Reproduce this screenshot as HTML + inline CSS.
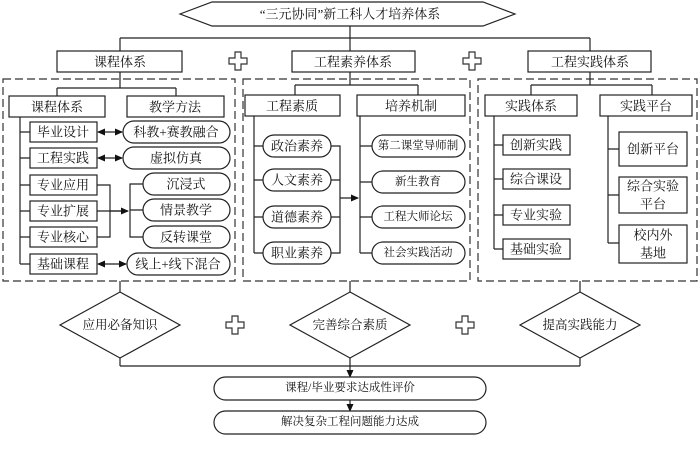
<!DOCTYPE html>
<html><head><meta charset="utf-8"><style>
html,body{margin:0;padding:0;background:#fff}
svg text{font-family:"Liberation Serif","Noto Serif CJK SC",serif;fill:#111;text-anchor:middle;dominant-baseline:central}
</style></head><body>
<svg width="700" height="446" viewBox="0 0 700 446" xmlns="http://www.w3.org/2000/svg">
<defs>
<marker id="a" markerWidth="8" markerHeight="8" refX="7" refY="4" orient="auto" markerUnits="userSpaceOnUse"><path d="M0,0.5 L8,4 L0,7.5 z" fill="#111"/></marker>
<marker id="b" markerWidth="8" markerHeight="8" refX="1" refY="4" orient="auto" markerUnits="userSpaceOnUse"><path d="M8,0.5 L0,4 L8,7.5 z" fill="#111"/></marker>
<g id="plus"><path d="M-3,-9 h6 v6 h6 v6 h-6 v6 h-6 v-6 h-6 v-6 h6 z" fill="#fff" stroke="#333" stroke-width="1.2"/></g>
</defs>
<g stroke="#222" stroke-width="1.2" fill="none">
<path d="M180,14 L212,2 L483,2 L515,14 L483,26 L212,26 Z" fill="#fff"/>
<path d="M350,26 V38 M120,38 H590 M120,38 V51 M350,38 V51 M590,38 V51"/>
<rect x="57" y="51" width="125" height="21" fill="#fff"/>
<rect x="292" y="51" width="123" height="21" fill="#fff"/>
<rect x="528" y="51" width="123" height="21" fill="#fff"/>
<g stroke-dasharray="8,4" stroke="#333">
<rect x="3" y="79" width="232" height="202"/>
<rect x="243" y="79" width="227" height="202"/>
<rect x="478" y="79" width="219" height="202"/>
</g>
<path d="M120,72 V88 M57,88 H176 M57,88 V96 M176,88 V96"/>
<rect x="9" y="96" width="96" height="21" fill="#fff"/>
<rect x="127" y="96" width="97" height="21" fill="#fff"/>
<path d="M20,117 V264 M20,132 H30 M20,158 H30 M20,185 H30 M20,211 H30 M20,237 H30 M20,264 H30"/>
<rect x="30" y="122" width="67" height="20" fill="#fff"/>
<rect x="30" y="148" width="67" height="20" fill="#fff"/>
<rect x="30" y="175" width="67" height="20" fill="#fff"/>
<rect x="30" y="201" width="67" height="20" fill="#fff"/>
<rect x="30" y="227" width="67" height="20" fill="#fff"/>
<rect x="30" y="254" width="67" height="20" fill="#fff"/>
<rect x="123" y="121" width="107" height="22" rx="11" fill="#fff"/>
<rect x="123" y="147" width="107" height="22" rx="11" fill="#fff"/>
<rect x="143" y="173" width="87" height="22" rx="11" fill="#fff"/>
<rect x="143" y="199" width="87" height="22" rx="11" fill="#fff"/>
<rect x="143" y="226" width="87" height="22" rx="11" fill="#fff"/>
<rect x="127" y="253" width="103" height="22" rx="11" fill="#fff"/>
<path d="M98,132 H122" marker-start="url(#b)" marker-end="url(#a)"/>
<path d="M98,158 H122" marker-start="url(#b)" marker-end="url(#a)"/>
<path d="M98,264 H126" marker-start="url(#b)" marker-end="url(#a)"/>
<path d="M97,185 H110 V237 H97 M97,211 H125" />
<path d="M110,211 H128" marker-end="url(#a)"/>
<path d="M143,184 H130 V237 H143 M130,210 H143"/>
<path d="M350,72 V85 M295,85 H418 M295,85 V95 M418,85 V95"/>
<rect x="245" y="95" width="95" height="21" fill="#fff"/>
<rect x="357" y="95" width="108" height="21" fill="#fff"/>
<path d="M254,116 V253 M254,146 H263 M254,180 H263 M254,217 H263 M254,253 H263"/>
<rect x="263" y="135" width="68" height="22" rx="11" fill="#fff"/>
<rect x="263" y="169" width="68" height="22" rx="11" fill="#fff"/>
<rect x="263" y="206" width="68" height="22" rx="11" fill="#fff"/>
<rect x="263" y="242" width="68" height="22" rx="11" fill="#fff"/>
<path d="M331,146 H340 V253 H331 M331,180 H340 M331,217 H340"/>
<path d="M340,198 H358" marker-end="url(#a)"/>
<path d="M360,116 V253 M360,146 H372 M360,182 H372 M360,217 H372 M360,253 H372"/>
<rect x="372" y="135" width="93" height="22" rx="11" fill="#fff"/>
<rect x="372" y="171" width="93" height="22" rx="11" fill="#fff"/>
<rect x="372" y="206" width="93" height="22" rx="11" fill="#fff"/>
<rect x="372" y="242" width="93" height="22" rx="11" fill="#fff"/>
<path d="M590,72 V85 M531,85 H652 M531,85 V95 M652,85 V95"/>
<rect x="485" y="95" width="92" height="21" fill="#fff"/>
<rect x="600" y="95" width="92" height="21" fill="#fff"/>
<path d="M494,116 V249 M494,145 H503 M494,179 H503 M494,215 H503 M494,249 H503"/>
<rect x="503" y="135" width="67" height="20" fill="#fff"/>
<rect x="503" y="169" width="67" height="20" fill="#fff"/>
<rect x="503" y="205" width="67" height="20" fill="#fff"/>
<rect x="503" y="239" width="67" height="20" fill="#fff"/>
<path d="M608,116 V243 M608,149 H619 M608,195 H619 M608,243 H619"/>
<rect x="619" y="132" width="68" height="34" fill="#fff"/>
<rect x="619" y="177" width="68" height="36" fill="#fff"/>
<rect x="619" y="225" width="68" height="38" fill="#fff"/>
<path d="M120,281 V292 M350,281 V292 M580,281 V292"/>
<path d="M120,292 L180,325 L120,358 L60,325 Z" fill="#fff"/>
<path d="M350,292 L410,325 L350,358 L290,325 Z" fill="#fff"/>
<path d="M580,292 L640,325 L580,358 L520,325 Z" fill="#fff"/>
<path d="M120,358 V366 M580,358 V366 M120,366 H580 M350,358 V366"/>
<path d="M350,366 V377" marker-end="url(#a)"/>
<rect x="214" y="377" width="272" height="23" rx="11.5" fill="#fff"/>
<path d="M350,400 V411" marker-end="url(#a)"/>
<rect x="214" y="411" width="272" height="23" rx="11.5" fill="#fff"/>
</g>
<use href="#plus" x="238" y="61"/>
<use href="#plus" x="472" y="61"/>
<use href="#plus" x="235" y="325"/>
<use href="#plus" x="465" y="325"/>
<g font-size="13">
<text x="350" y="14">“三元协同”新工科人才培养体系</text>
<text x="120" y="62">课程体系</text>
<text x="353" y="62">工程素养体系</text>
<text x="590" y="62">工程实践体系</text>
<text x="57" y="107">课程体系</text>
<text x="175" y="107">教学方法</text>
<text x="63" y="132">毕业设计</text>
<text x="63" y="158">工程实践</text>
<text x="63" y="185">专业应用</text>
<text x="63" y="211">专业扩展</text>
<text x="63" y="237">专业核心</text>
<text x="63" y="264">基础课程</text>
<text x="176" y="132">科教+赛教融合</text>
<text x="176" y="158">虚拟仿真</text>
<text x="186" y="184">沉浸式</text>
<text x="186" y="210">情景教学</text>
<text x="186" y="237">反转课堂</text>
<text x="178" y="264">线上+线下混合</text>
<text x="292" y="106">工程素质</text>
<text x="411" y="106">培养机制</text>
<text x="297" y="146">政治素养</text>
<text x="297" y="180">人文素养</text>
<text x="297" y="217">道德素养</text>
<text x="297" y="253">职业素养</text>
<text x="531" y="106">实践体系</text>
<text x="646" y="106">实践平台</text>
<text x="536" y="145">创新实践</text>
<text x="536" y="179">综合课设</text>
<text x="536" y="215">专业实验</text>
<text x="536" y="249">基础实验</text>
<text x="653" y="149">创新平台</text>
<text x="653" y="186">综合实验</text>
<text x="653" y="204">平台</text>
<text x="653" y="235">校内外</text>
<text x="653" y="253">基地</text>
</g>
<g font-size="11.5">
<text x="418" y="146">第二课堂导师制</text>
<text x="418" y="182">新生教育</text>
<text x="418" y="217">工程大师论坛</text>
<text x="418" y="253">社会实践活动</text>
<text x="350" y="388">课程/毕业要求达成性评价</text>
<text x="350" y="422">解决复杂工程问题能力达成</text>
</g>
<g font-size="12.5">
<text x="120" y="325">应用必备知识</text>
<text x="350" y="325">完善综合素质</text>
<text x="580" y="325">提高实践能力</text>
</g>
</svg>
</body></html>
